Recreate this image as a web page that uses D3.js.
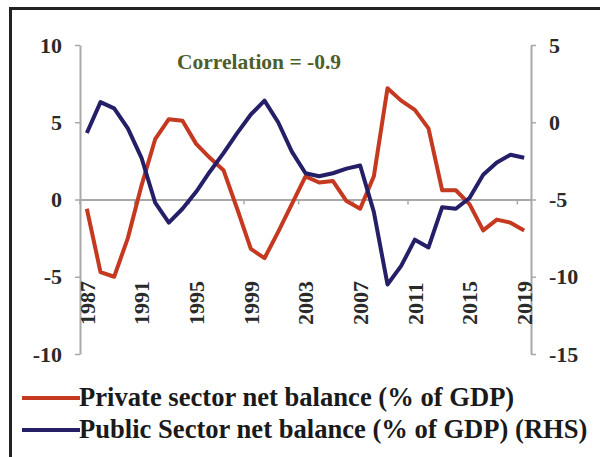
<!DOCTYPE html>
<html>
<head>
<meta charset="utf-8">
<script src="https://cdn.jsdelivr.net/npm/d3@7"></script>
<style>
  html, body { margin: 0; padding: 0; background: #ffffff; }
  svg { display: block; }
  text { font-family: "Liberation Serif", "Times New Roman", serif; font-weight: bold; }
</style>
</head>
<body>
<svg id="chart" width="600" height="457"></svg>
<script>
const years = d3.range(1987, 2020);
const privateBalance = [-0.6, -4.7, -5.0, -2.5, 0.9, 3.9, 5.2, 5.1, 3.6, 2.7, 1.9, -0.6, -3.2, -3.8, -2.1, -0.3, 1.5, 1.1, 1.2, -0.1, -0.6, 1.5, 7.2, 6.4, 5.8, 4.6, 0.6, 0.6, -0.3, -2.0, -1.3, -1.5, -2.0];
const publicBalance = [-0.7, 1.3, 0.9, -0.4, -2.3, -5.2, -6.5, -5.6, -4.5, -3.2, -2.0, -0.7, 0.5, 1.4, 0.0, -1.9, -3.3, -3.5, -3.3, -3.0, -2.8, -5.8, -10.5, -9.3, -7.6, -8.1, -5.5, -5.6, -4.9, -3.4, -2.6, -2.1, -2.3];
const leftTicks = [-10, -5, 0, 5, 10];
const rightTicks = [-15, -10, -5, 0, 5];
const xLabelYears = [1987, 1991, 1995, 1999, 2003, 2007, 2011, 2015, 2019];
const seriesNames = ["Private sector net balance (% of GDP)", "Public Sector net balance (% of GDP) (RHS)"];
const annotation = "Correlation = -0.9";

const svg = d3.select("#chart");
const plot = { left: 80, right: 531, top: 45, bottom: 354 };
const red = "#c4391f", blue = "#241f66", gray = "#a9a9a9";

// outer frame
svg.append("rect").attr("x", 10.5).attr("y", 8.5).attr("width", 620).attr("height", 480)
  .attr("fill", "#ffffff").attr("stroke", "#222222").attr("stroke-width", 3);

const x = d3.scaleBand().domain(years).range([plot.left, plot.right]).padding(0);
const bw = x.bandwidth();
const cx = d => x(d) + bw / 2;
const yL = d3.scaleLinear().domain([-10, 10]).range([plot.bottom, plot.top]);
const yR = d3.scaleLinear().domain([-15, 5]).range([plot.bottom, plot.top]);
const fmt = d => String(d);

function styleAxis(g) {
  g.select(".domain").attr("stroke", gray).attr("stroke-width", 2);
  g.selectAll(".tick line").attr("stroke", gray).attr("stroke-width", 1.5);
  g.selectAll(".tick text").attr("fill", "#2a2a2a").style("font-size", "22px")
    .style("font-family", '"Liberation Serif", "Times New Roman", serif').style("font-weight", "bold");
}

// left axis
const gL = svg.append("g").attr("transform", `translate(${plot.left},0)`)
  .call(d3.axisLeft(yL).tickValues(leftTicks).tickSize(5).tickSizeOuter(0).tickPadding(13).tickFormat(fmt));
styleAxis(gL);

// right axis
const gR = svg.append("g").attr("transform", `translate(${plot.right},0)`)
  .call(d3.axisRight(yR).tickValues(rightTicks).tickSize(5).tickSizeOuter(0).tickPadding(13).tickFormat(fmt));
styleAxis(gR);

// x axis at zero of left scale
const gX = svg.append("g").attr("transform", `translate(0,${yL(0)})`)
  .call(d3.axisBottom(x).tickValues(xLabelYears).tickSize(5).tickSizeOuter(0).tickFormat(fmt));
styleAxis(gX);
gX.selectAll(".tick line").attr("x1", -bw / 2).attr("x2", -bw / 2);
gX.selectAll(".tick text")
  .attr("x", 0).attr("y", 0).attr("dy", "0.35em")
  .attr("text-anchor", "start")
  .attr("transform", `translate(0,${325 - yL(0)}) rotate(-90)`);

// lines
const lineL = d3.line().x((d, i) => cx(years[i])).y(d => yL(d));
const lineR = d3.line().x((d, i) => cx(years[i])).y(d => yR(d));
svg.append("path").datum(privateBalance).attr("d", lineL)
  .attr("fill", "none").attr("stroke", red).attr("stroke-width", 4).attr("stroke-linejoin", "round");
svg.append("path").datum(publicBalance).attr("d", lineR)
  .attr("fill", "none").attr("stroke", blue).attr("stroke-width", 4).attr("stroke-linejoin", "round");

// annotation
svg.append("text").attr("x", 177).attr("y", 69).text(annotation)
  .attr("fill", "#4e5e2a").style("font-size", "21.5px");

// legend
const legend = svg.append("g");
[[red, 406], [blue, 438]].forEach(([c, yb], i) => {
  legend.append("line").attr("x1", 22).attr("x2", 80).attr("y1", yb - 8).attr("y2", yb - 8)
    .attr("stroke", c).attr("stroke-width", 4);
  legend.append("text").attr("x", 79).attr("y", yb).text(seriesNames[i])
    .attr("fill", "#1a1a1a").style("font-size", "26.6px");
});
</script>
</body>
</html>
